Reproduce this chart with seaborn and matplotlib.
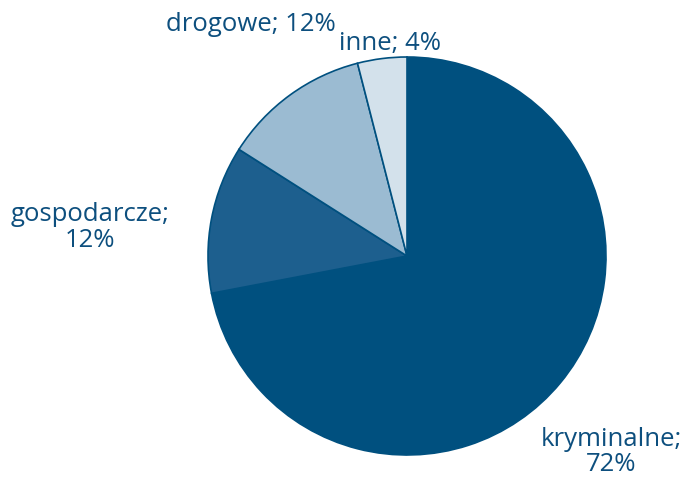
import matplotlib
matplotlib.use("Agg")
import matplotlib.pyplot as plt
import seaborn as sns

categories = ["kryminalne", "gospodarcze", "drogowe", "inne"]
values = [72, 12, 12, 4]
colors = ["#00507f", "#1d5f8e", "#9bbbd2", "#d3e1eb"]
label_text = ["kryminalne;\n72%", "gospodarcze;\n12%", "drogowe; 12%", "inne; 4%"]
label_pos = [(1.025, -0.985), (-1.595, 0.145), (-0.785, 1.165), (-0.085, 1.07)]

sns.set_theme(style="white")
plt.rcParams['font.family'] = ['Open Sans', 'DejaVu Sans']

W, H = 681, 479
fig = plt.figure(figsize=(W / 100, H / 100), dpi=100)
cx, cy, r = 407, 256, 199
ax = fig.add_axes([(cx - r) / W, (H - cy - r) / H, 2 * r / W, 2 * r / H])

wedges, _ = ax.pie(values, colors=colors, startangle=90, counterclock=False,
                   radius=1.0, wedgeprops=dict(edgecolor="#00507f", linewidth=1.2))
ax.set_xlim(-1, 1)
ax.set_ylim(-1, 1)
ax.set_aspect("equal")
ax.axis("off")

for txt, (x, y) in zip(label_text, label_pos):
    ax.text(x, y, txt, ha="center", va="center", fontsize=18.5, color="#0d4f7e",
            linespacing=1.05, clip_on=False)

fig.savefig("out.png", dpi=100, facecolor="white")
